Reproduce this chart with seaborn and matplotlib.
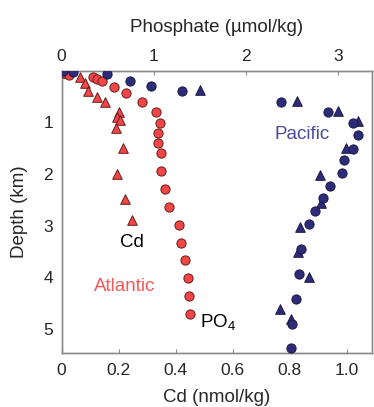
import matplotlib
matplotlib.use("Agg")
import matplotlib.pyplot as plt
import seaborn as sns
import pandas as pd

# Atlantic phosphate (circles, top axis)
atl_po4_depth = [0.01, 0.05, 0.09, 0.12, 0.17, 0.21, 0.31, 0.43, 0.60, 0.81, 1.01, 1.20,
                 1.40, 1.60, 1.95, 2.29, 2.64, 2.98, 3.33, 3.67, 4.01, 4.36, 4.70]
atl_po4 = [0.01, 0.03, 0.08, 0.34, 0.39, 0.44, 0.57, 0.70, 0.87, 1.03, 1.07, 1.05,
           1.05, 1.08, 1.08, 1.12, 1.17, 1.27, 1.30, 1.34, 1.37, 1.38, 1.39]
# Atlantic Cd (triangles, bottom axis)
atl_cd_depth = [0.05, 0.13, 0.25, 0.40, 0.51, 0.61, 0.80, 0.90, 0.96, 1.11, 1.50, 2.00, 2.49, 2.88]
atl_cd = [0.02, 0.065, 0.082, 0.094, 0.125, 0.154, 0.202, 0.194, 0.204, 0.191, 0.214, 0.193, 0.222, 0.246]
# Pacific phosphate (circles, top axis)
pac_po4_depth = [0.00, 0.03, 0.06, 0.21, 0.30, 0.40, 0.61, 0.81, 1.01, 1.24, 1.51, 1.73,
                 1.98, 2.23, 2.46, 2.71, 2.96, 3.45, 3.94, 4.41, 4.90, 5.37]
pac_po4 = [0.02, 0.13, 0.49, 0.74, 0.97, 1.31, 2.38, 2.89, 3.16, 3.22, 3.16, 3.07,
           3.04, 2.91, 2.84, 2.75, 2.69, 2.60, 2.58, 2.54, 2.50, 2.49]
# Pacific Cd (triangles, bottom axis)
pac_cd_depth = [0.00, 0.37, 0.59, 0.78, 0.98, 1.50, 2.02, 2.57, 3.03, 3.51, 3.99, 4.61, 4.81]
pac_cd = [0.00, 0.486, 0.827, 0.969, 1.040, 0.997, 0.905, 0.911, 0.837, 0.829, 0.867, 0.768, 0.805]

cd_ticks = [0, 0.2, 0.4, 0.6, 0.8, 1.0]
cd_ticklabels = ["0", "0.2", "0.4", "0.6", "0.8", "1.0"]
po4_ticks = [0, 1, 2, 3]
depth_ticks = [1, 2, 3, 4, 5]

RED = "#F04646"
RED_EDGE = "#6a1c1c"
BLUE = "#2E2B78"
BLUE_EDGE = "#1a1846"

sns.set_style("white")
plt.rcParams["font.family"] = ["Liberation Sans", "DejaVu Sans"]
plt.rcParams["mathtext.default"] = "regular"

fig = plt.figure(figsize=(3.74, 4.07), dpi=100)
ax = fig.add_axes([61.5 / 374, 1 - 353 / 407, (372 - 61.5) / 374, (353 - 70.5) / 407])
ax2 = ax.twiny()

df_atl_cd = pd.DataFrame({"Cd": atl_cd, "Depth": atl_cd_depth})
df_pac_cd = pd.DataFrame({"Cd": pac_cd, "Depth": pac_cd_depth})
df_atl_p = pd.DataFrame({"PO4": atl_po4, "Depth": atl_po4_depth})
df_pac_p = pd.DataFrame({"PO4": pac_po4, "Depth": pac_po4_depth})

sns.scatterplot(data=df_atl_cd, x="Cd", y="Depth", ax=ax, marker="^", s=48,
                color=RED, edgecolor=RED_EDGE, linewidth=0.7, legend=False, zorder=3)
sns.scatterplot(data=df_pac_cd, x="Cd", y="Depth", ax=ax, marker="^", s=48,
                color=BLUE, edgecolor=BLUE_EDGE, linewidth=0.7, legend=False, zorder=3)
sns.scatterplot(data=df_atl_p, x="PO4", y="Depth", ax=ax2, marker="o", s=44,
                color=RED, edgecolor=RED_EDGE, linewidth=0.7, legend=False, zorder=3)
sns.scatterplot(data=df_pac_p, x="PO4", y="Depth", ax=ax2, marker="o", s=44,
                color=BLUE, edgecolor=BLUE_EDGE, linewidth=0.7, legend=False, zorder=3)

ax.set_xlim(0, 1.089)
ax2.set_xlim(0, 3.37)
ax.set_ylim(5.46, 0)
ax2.set_ylim(5.46, 0)

ax.set_xticks(cd_ticks)
ax.set_xticklabels(cd_ticklabels)
ax.set_yticks(depth_ticks)
ax2.set_xticks(po4_ticks)

for a in (ax, ax2):
    for sp in a.spines.values():
        sp.set_color("#8a8a8a")
        sp.set_linewidth(1.0)
        sp.set_visible(True)

ax.tick_params(axis="x", direction="in", length=3, color="#8a8a8a", labelsize=12.5, pad=7)
ax.tick_params(axis="y", direction="in", length=3, color="#8a8a8a", labelsize=12.5, pad=6)
ax2.tick_params(axis="x", direction="in", length=3, color="#8a8a8a", labelsize=12.5, pad=5)

ax.set_xlabel("Cd (nmol/kg)", fontsize=13.5, labelpad=8)
ax.set_ylabel("Depth (km)", fontsize=13.5, labelpad=11)
ax2.set_xlabel("Phosphate (µmol/kg)", fontsize=13.5, labelpad=12)
ax2.set_ylabel("")

ax.text(0.843, 1.23, "Pacific", color="#4B4A9C", fontsize=13.5, ha="center", va="center")
ax.text(0.223, 4.18, "Atlantic", color="#F05A5A", fontsize=13.5, ha="center", va="center")
ax.text(0.247, 3.33, "Cd", color="black", fontsize=13.5, ha="center", va="center")
ax.text(0.55, 4.86, "PO$_4$", color="black", fontsize=13.5, ha="center", va="center")

fig.savefig("out.png", dpi=100)
